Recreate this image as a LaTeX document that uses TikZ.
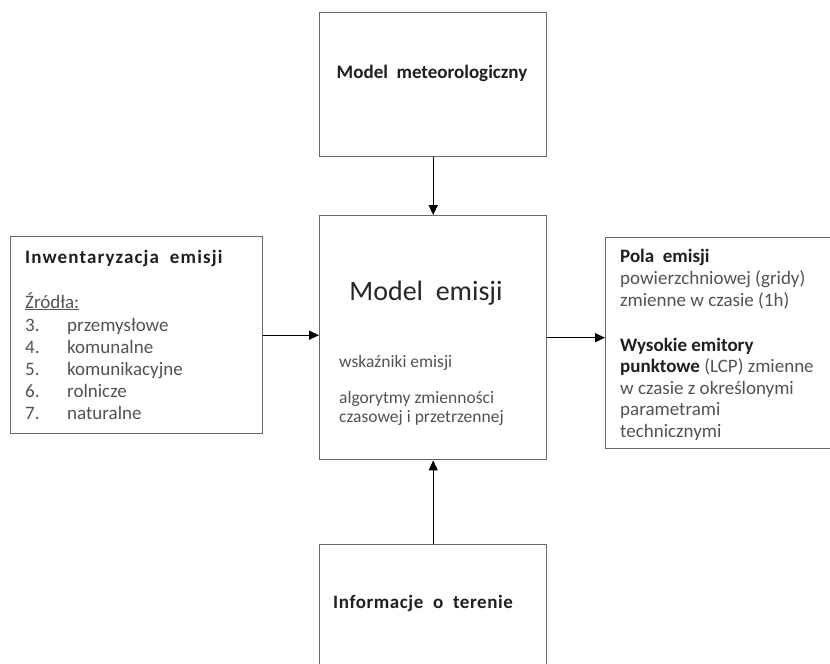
\documentclass[tikz,border=0pt]{standalone}
\usepackage{fontspec}
\setmainfont{Carlito}
\usetikzlibrary{arrows.meta, positioning}

\tikzset{
  box/.style={draw=black!60, line width=1.4pt, rectangle, inner sep=0pt, anchor=north west},
  arr/.style={-{Triangle[length=10pt, width=9pt]}, line width=1.4pt, black},
  title/.style={font=\bfseries\fontsize{19}{22}\selectfont, text=black!88, inner sep=0pt},
  body/.style={font=\fontsize{19}{21.5}\selectfont, text=black!68, align=left, inner sep=0pt}
}

\begin{document}
\begin{tikzpicture}[x=1pt, y=-1pt]

  % page frame (pixels of the reference, y downwards)
  \useasboundingbox (0,0) rectangle (830,664);
  \clip (0,0) rectangle (830,664);

  % boxes
  \node[box, minimum width=227pt, minimum height=144pt] (meteo) at (319,12) {};
  \node[box, minimum width=227pt, minimum height=244pt] (model) at (319,215) {};
  \node[box, minimum width=227pt, minimum height=160pt] (teren) at (319,544) {};
  \node[box, minimum width=252pt, minimum height=197pt] (inw) at (10,236) {};
  \node[box, minimum width=245pt, minimum height=211pt] (pola) at (605,237) {};

  % top box
  \node[title, anchor=base] (meteoT) at (432,78) {Model\ \ meteorologiczny};

  % middle box (multi-line texts sit on their last line)
  \node[anchor=base, inner sep=0pt, text=black!85,
        font=\fontsize{28}{30}\selectfont] (modelT) at (426,300) {Model\ \ emisji};
  \node[body, anchor=base west, font=\fontsize{17.5}{19}\selectfont] (wsk) at (339,367) {wskaźniki emisji};
  \node[body, anchor=base west, font=\fontsize{17.5}{19}\selectfont] (alg) at (339,422)
    {algorytmy zmienności\\czasowej i przetrzennej};

  % bottom box
  \node[title, anchor=base west] (terenT) at (333,608) {\addfontfeature{LetterSpace=3}Informacje\ \ o\ \ terenie};

  % left box
  \node[title, anchor=base west] (inwT) at (25,263) {\addfontfeature{LetterSpace=6}Inwentaryzacja\ \ emisji};
  \node[body, anchor=base west] (zr) at (25,308) {\underline{Źródła:}};
  \node[body, anchor=base west, font=\fontsize{19}{22}\selectfont] (nr) at (25,419) {3.\\4.\\5.\\6.\\7.};
  \node[body, anchor=base west, font=\fontsize{19}{22}\selectfont] (src) at (67,419)
    {przemysłowe\\komunalne\\komunikacyjne\\rolnicze\\naturalne};

  % right box
  \node[title, anchor=base west] (polaT) at (620,262) {Pola\ \ emisji};
  \node[body, anchor=base west] (pow) at (620,306) {powierzchniowej (gridy)\\zmienne w czasie (1h)};
  \node[body, anchor=base west] (lcp) at (620,437)
    {\textcolor{black!88}{\bfseries Wysokie emitory}\\
     \textcolor{black!88}{\bfseries punktowe} (LCP) zmienne\\
     w czasie z określonymi\\parametrami\\technicznymi};

  % connectors
  \draw[arr] (meteo) -- (model);
  \draw[arr] (teren) -- (model);
  \draw[arr] (inw.east) -- (inw.east -| model.west);
  \draw[arr] (model.east) -- (model.east -| pola.west);

\end{tikzpicture}
\end{document}
